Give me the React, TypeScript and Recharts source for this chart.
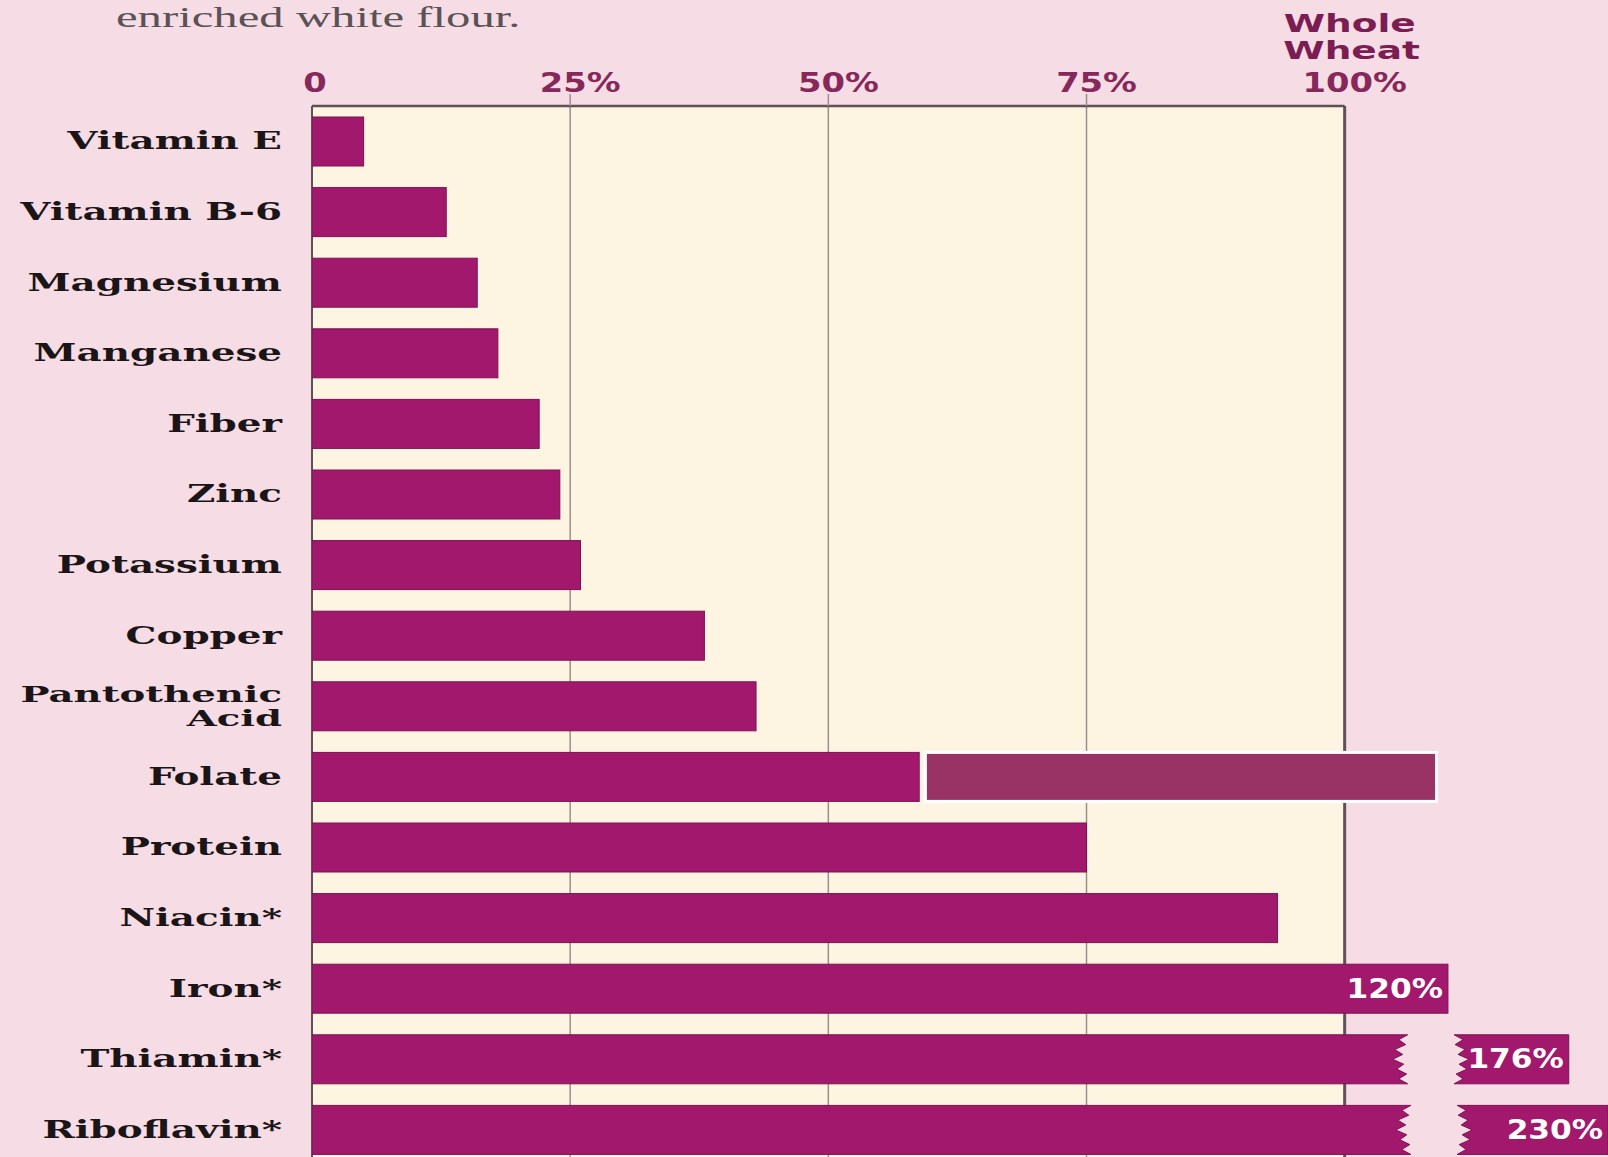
import { BarChart, Bar, XAxis, YAxis, ReferenceArea, LabelList } from "recharts";

// share of each nutrient retained in enriched white flour, whole wheat = 100%
const nutrients = [
  "Vitamin E",
  "Vitamin B-6",
  "Magnesium",
  "Manganese",
  "Fiber",
  "Zinc",
  "Potassium",
  "Copper",
  "Pantothenic\nAcid",
  "Folate",
  "Protein",
  "Niacin*",
  "Iron*",
  "Thiamin*",
  "Riboflavin*",
];
const retainedPct = [5, 13, 16, 18, 22, 24, 26, 38, 43, 58.8, 75, 93.5, 110, 106.1, 106.4];
const gapPct = [0, 0, 0, 0, 0, 0, 0, 0, 0, 0.6, 0, 0, 0, 4.5, 4.5];
const tailPct = [0, 0, 0, 0, 0, 0, 0, 0, 0, 49.5, 0, 0, 0, 11.1, 14.6];
const tailKind = ["", "", "", "", "", "", "", "", "", "box", "", "", "", "torn", "torn"];
const endLabels = ["", "", "", "", "", "", "", "", "", "", "", "", "120%", "176%", "230%"];
const xTicks = [0, 25, 50, 75, 100];
const gridPct = [25, 50, 75];

const data = nutrients.map((name, i) => ({
  name,
  retained: retainedPct[i],
  gap: gapPct[i],
  tail: tailPct[i],
  kind: tailKind[i],
  endLabel: endLabels[i],
}));

const PINK = "#f5dce5";
const CREAM = "#fdf5e2";
const BAR = "#a1186c";
const BAR_EDGE = "#7c1253";
const BOX = "#993366";
const GRID = "#9c8f8a";
const FRAME = "#5f5055";
const TICK = "#86285a";
const TITLE = "#7b1c52";

const tornOffsets = [0, -9, -2, -13, -5, -15, -4, -11, -1, -9, 0];

function tornRight(x: number, y: number, w: number, h: number) {
  const pts = tornOffsets.map((o, i) => `L${x + w + o},${y + (h * i) / (tornOffsets.length - 1)}`);
  return `M${x},${y} ${pts.join(" ")} L${x},${y + h} Z`;
}

function tornLeft(x: number, y: number, w: number, h: number) {
  const pts = tornOffsets.map((o, i) => `L${x - o},${y + h - (h * i) / (tornOffsets.length - 1)}`);
  return `M${x + w},${y} L${x + w},${y + h} ${pts.join(" ")} Z`;
}

// cream panel spanning 0..100% with its grid and frame, drawn under the bars
const PlotPanel = (p: any) => {
  const { x, y, width, height } = p;
  return (
    <g>
      <rect x={x} y={y} width={width} height={height} fill={CREAM} />
      {gridPct.map((v) => (
        <line key={v} x1={x + (width * v) / 100} x2={x + (width * v) / 100} y1={y} y2={y + height} stroke={GRID} strokeWidth={1.5} />
      ))}
      <line x1={x} x2={x + width} y1={y} y2={y} stroke={FRAME} strokeWidth={2.5} />
      <line x1={x} x2={x} y1={y} y2={y + height} stroke={FRAME} strokeWidth={2} />
      <line x1={x + width} x2={x + width} y1={y} y2={y + height} stroke={FRAME} strokeWidth={3} />
    </g>
  );
};

const MainShape = (p: any) => {
  const { x, y, width, height, payload } = p;
  if (!width || width <= 0) return null;
  if (payload.kind === "torn") {
    return <path d={tornRight(x, y, width, height)} fill={BAR} stroke={BAR_EDGE} strokeWidth={1} />;
  }
  return <rect x={x} y={y} width={width} height={height} fill={BAR} stroke={BAR_EDGE} strokeWidth={1} />;
};

const TailShape = (p: any) => {
  const { x, y, width, height, payload } = p;
  if (!width || width <= 0) return null;
  if (payload.kind === "box") {
    return <rect x={x} y={y} width={width} height={height} fill={BOX} stroke="#ffffff" strokeWidth={3} />;
  }
  return <path d={tornLeft(x, y, width, height)} fill={BAR} stroke={BAR_EDGE} strokeWidth={1} />;
};

const EndLabel = (p: any) => {
  const { x, y, width, height, value } = p;
  if (!value) return null;
  return (
    <text
      transform={`translate(${x + width - 5},${y + height / 2}) scale(1.2,1)`}
      textAnchor="end"
      dominantBaseline="central"
      fontFamily="DejaVu Sans"
      fontWeight="bold"
      fontSize={26}
      fill="#ffffff"
    >
      {value}
    </text>
  );
};

const XTick = (p: any) => {
  const { x, y, payload } = p;
  const v = payload.value;
  const label = v === 0 ? "0" : `${v}%`;
  const dx = v === 0 ? 3 : 10;
  const font = { fontFamily: "DejaVu Sans", fontWeight: "bold" as const };
  return (
    <g>
      {v > 0 && v < 100 && <line x1={x} x2={x} y1={y - 12} y2={y} stroke={GRID} strokeWidth={1.5} />}
      <text transform={`translate(${x + dx},${y - 14}) scale(1.25,1)`} textAnchor="middle" fontSize={27} fill={TICK} {...font}>
        {label}
      </text>
      {v === 100 && (
        <>
          <text transform={`translate(${x + 5},${y - 74}) scale(1.5,1)`} textAnchor="middle" fontSize={25} fill={TITLE} {...font}>
            Whole
          </text>
          <text transform={`translate(${x + 7},${y - 47}) scale(1.5,1)`} textAnchor="middle" fontSize={25} fill={TITLE} {...font}>
            Wheat
          </text>
        </>
      )}
    </g>
  );
};

const YTick = (p: any) => {
  const { x, y, payload } = p;
  const lines = String(payload.value).split("\n");
  return (
    <g>
      {lines.map((line, i) => (
        <text
          key={line}
          transform={`translate(${x},${y + (i - (lines.length - 1) / 2) * 24}) scale(${lines.length > 1 ? 1.68 : 1.62},1)`}
          textAnchor="end"
          dominantBaseline="central"
          fontFamily="DejaVu Serif"
          fontWeight="bold"
          fontSize={lines.length > 1 ? 23 : 24}
          fill="#1b1517"
        >
          {line}
        </text>
      ))}
    </g>
  );
};

export default function App() {
  return (
    <div
      style={{
        position: "absolute",
        left: 0,
        top: 0,
        width: 1608,
        height: 1157,
        overflow: "hidden",
        background: PINK,
      }}
    >
      <div
        style={{
          position: "absolute",
          left: 116,
          top: 3,
          fontFamily: "Liberation Serif",
          fontSize: 29,
          lineHeight: "29px",
          color: "#5b5256",
          transform: "scaleX(1.68)",
          transformOrigin: "left center",
          whiteSpace: "nowrap",
        }}
      >
        enriched white flour.
      </div>
      <BarChart
        width={1608}
        height={1165}
        data={data}
        layout="vertical"
        margin={{ top: 66, right: 0, bottom: 0, left: 0 }}
        barSize={49}
        style={{ position: "absolute", left: 0, top: 0 }}
      >
        <ReferenceArea x1={0} x2={100} shape={<PlotPanel />} />
        <XAxis
          type="number"
          orientation="top"
          domain={[0, 125.5]}
          allowDataOverflow
          ticks={xTicks}
          height={40}
          axisLine={false}
          tickLine={false}
          tickSize={0}
          tickMargin={0}
          tick={<XTick />}
        />
        <YAxis
          type="category"
          dataKey="name"
          width={312}
          axisLine={false}
          tickLine={false}
          tickSize={0}
          tickMargin={30}
          interval={0}
          tick={<YTick />}
        />
        <Bar dataKey="retained" stackId="a" shape={<MainShape />} isAnimationActive={false} />
        <Bar dataKey="gap" stackId="a" fill="transparent" isAnimationActive={false} />
        <Bar dataKey="tail" stackId="a" shape={<TailShape />} isAnimationActive={false}>
          <LabelList dataKey="endLabel" content={<EndLabel />} />
        </Bar>
      </BarChart>
    </div>
  );
}
